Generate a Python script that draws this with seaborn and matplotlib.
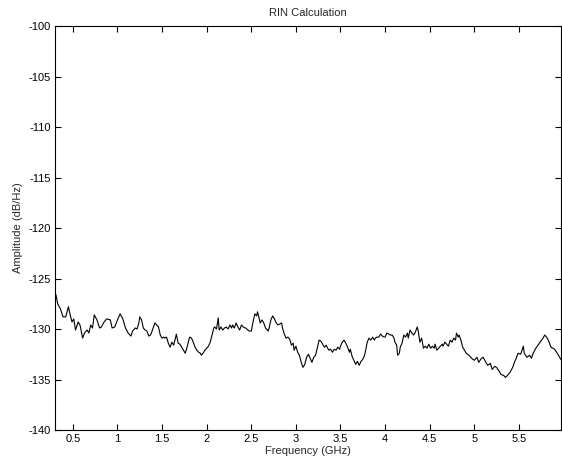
import matplotlib
matplotlib.use("Agg")
import matplotlib.pyplot as plt
import seaborn as sns
import pandas as pd

# frequency (GHz) and RIN amplitude (dB/Hz)
freq = [0.30, 0.31, 0.33, 0.36, 0.39, 0.42, 0.45, 0.47, 0.49, 0.51, 0.53, 0.56, 0.58,
        0.61, 0.63, 0.66, 0.68, 0.70, 0.72, 0.74, 0.77, 0.80, 0.82, 0.85, 0.88, 0.92,
        0.94, 0.97, 1.00, 1.03, 1.06, 1.09, 1.12, 1.15, 1.17, 1.20, 1.22, 1.24, 1.25,
        1.27, 1.29, 1.31, 1.33, 1.35, 1.37, 1.38, 1.40, 1.42, 1.44, 1.46, 1.48, 1.50,
        1.52, 1.53, 1.55, 1.57, 1.59, 1.61, 1.63, 1.65, 1.66, 1.68, 1.70, 1.72, 1.74,
        1.76, 1.78, 1.80, 1.81, 1.83, 1.85, 1.87, 1.89, 1.91, 1.93, 1.94, 1.96, 1.98,
        2.00, 2.02, 2.04, 2.06, 2.08, 2.09, 2.11, 2.13, 2.14, 2.16, 2.18, 2.20, 2.22,
        2.24, 2.26, 2.28, 2.29, 2.31, 2.33, 2.35, 2.37, 2.39, 2.41, 2.43, 2.44, 2.46,
        2.48, 2.50, 2.52, 2.54, 2.56, 2.57, 2.59, 2.60, 2.62, 2.64, 2.66, 2.69, 2.70,
        2.72, 2.74, 2.76, 2.78, 2.80, 2.82, 2.84, 2.85, 2.87, 2.89, 2.91, 2.93, 2.95,
        2.97, 2.98, 3.00, 3.02, 3.04, 3.06, 3.08, 3.10, 3.12, 3.14, 3.16, 3.18, 3.20,
        3.22, 3.24, 3.26, 3.28, 3.30, 3.32, 3.34, 3.35, 3.37, 3.39, 3.41, 3.43, 3.45,
        3.47, 3.49, 3.50, 3.52, 3.54, 3.56, 3.58, 3.60, 3.61, 3.63, 3.65, 3.67, 3.69,
        3.71, 3.73, 3.75, 3.77, 3.78, 3.80, 3.82, 3.84, 3.86, 3.88, 3.89, 3.91, 3.93,
        3.95, 3.97, 3.99, 4.00, 4.02, 4.04, 4.06, 4.08, 4.10, 4.11, 4.13, 4.14, 4.16,
        4.17, 4.19, 4.21, 4.23, 4.25, 4.26, 4.28, 4.30, 4.32, 4.34, 4.36, 4.37, 4.39,
        4.41, 4.43, 4.45, 4.47, 4.49, 4.51, 4.53, 4.55, 4.56, 4.58, 4.60, 4.62, 4.64,
        4.65, 4.67, 4.69, 4.71, 4.73, 4.75, 4.77, 4.79, 4.80, 4.82, 4.83, 4.85, 4.87,
        4.89, 4.91, 4.94, 4.97, 5.00, 5.03, 5.05, 5.08, 5.10, 5.13, 5.15, 5.18, 5.20,
        5.23, 5.25, 5.28, 5.30, 5.33, 5.35, 5.38, 5.40, 5.43, 5.45, 5.47, 5.49, 5.52,
        5.55, 5.56, 5.59, 5.62, 5.64, 5.66, 5.69, 5.73, 5.77, 5.79, 5.81, 5.83, 5.86,
        5.90, 5.93, 5.97]
amp = [-126.8, -126.6, -127.5, -128.0, -128.8, -128.8, -127.8, -128.6, -129.3, -129.0,
       -130.1, -129.3, -129.6, -130.9, -130.4, -130.1, -130.4, -129.6, -129.9, -128.6,
       -129.1, -129.9, -129.8, -129.3, -129.0, -129.1, -129.9, -129.8, -129.1, -128.5,
       -129.0, -129.9, -130.4, -130.7, -130.2, -129.9, -130.0, -129.4, -128.8, -129.1,
       -129.9, -130.1, -130.2, -130.7, -130.6, -130.4, -129.9, -129.4, -129.6, -129.8,
       -130.6, -130.9, -130.8, -130.9, -130.8, -131.4, -131.8, -131.3, -131.6, -130.9,
       -130.5, -131.4, -131.5, -131.8, -132.1, -132.4, -131.8, -131.1, -130.8, -130.9,
       -131.3, -131.8, -132.1, -132.3, -132.4, -132.6, -132.4, -132.1, -131.9, -131.7,
       -131.3, -130.6, -129.9, -129.8, -130.0, -128.9, -130.1, -129.8, -130.1, -129.9,
       -129.8, -130.0, -129.6, -129.9, -129.6, -129.9, -129.4, -129.8, -130.1, -129.6,
       -129.8, -129.9, -129.9, -130.1, -130.2, -130.2, -129.3, -128.5, -128.7, -128.3,
       -129.0, -129.4, -129.1, -129.4, -129.9, -130.2, -129.9, -129.1, -128.7, -129.0,
       -129.4, -129.6, -129.5, -129.4, -129.9, -130.5, -130.9, -130.8, -131.0, -131.6,
       -131.4, -132.1, -131.7, -132.3, -132.6, -133.3, -133.8, -133.5, -132.8, -132.5,
       -132.9, -133.3, -132.8, -132.6, -131.9, -131.1, -131.2, -131.5, -131.8, -131.6,
       -131.8, -132.1, -132.0, -132.3, -132.0, -132.1, -131.8, -132.0, -131.7, -131.3,
       -131.1, -131.4, -131.8, -132.3, -132.0, -132.7, -133.1, -133.5, -133.2, -133.6,
       -133.2, -133.0, -132.6, -132.2, -131.3, -130.9, -131.1, -130.8, -131.1, -130.9,
       -130.8, -130.8, -130.5, -130.7, -130.8, -130.8, -130.4, -130.5, -130.6, -130.6,
       -130.9, -131.3, -131.6, -132.6, -132.4, -131.8, -131.4, -130.6, -130.8, -130.4,
       -130.9, -130.1, -130.4, -130.6, -130.3, -129.8, -130.1, -131.3, -130.9, -131.9,
       -131.7, -131.9, -131.5, -131.9, -131.7, -131.9, -131.5, -132.1, -131.9, -131.7,
       -131.5, -131.7, -131.3, -131.5, -131.7, -131.1, -131.3, -130.9, -131.1, -130.4,
       -130.8, -130.6, -131.1, -131.8, -132.1, -132.4, -132.6, -132.9, -133.1, -132.8,
       -133.3, -132.9, -132.8, -133.3, -133.6, -133.4, -134.0, -133.7, -133.8, -134.2,
       -134.5, -134.6, -134.8, -134.5, -134.3, -133.8, -133.3, -132.9, -132.4, -132.5,
       -131.7, -132.4, -132.8, -132.6, -132.9, -132.4, -131.9, -131.4, -130.9, -130.6,
       -130.8, -131.1, -131.8, -132.0, -132.4, -133.0]

x_ticks = [0.5, 1, 1.5, 2, 2.5, 3, 3.5, 4, 4.5, 5, 5.5]
x_tick_labels = ["0.5", "1", "1.5", "2", "2.5", "3", "3.5", "4", "4.5", "5", "5.5"]
y_ticks = [-140, -135, -130, -125, -120, -115, -110, -105, -100]

df = pd.DataFrame({"freq": freq, "amp": amp})

sns.set_style("ticks")
plt.rcParams["font.family"] = ["Liberation Sans", "DejaVu Sans"]
plt.rcParams["font.size"] = 8
plt.rcParams["axes.unicode_minus"] = False  # plain hyphen like the MATLAB original

fig = plt.figure(figsize=(5.62, 4.61), dpi=100)
ax = fig.add_axes([0.0979, 0.0672, 0.9, 0.8764])

sns.lineplot(data=df, x="freq", y="amp", color="black", linewidth=0.8, ax=ax)

ax.set_xlim(0.3, 5.97)
ax.set_ylim(-140, -100)
ax.set_xticks(x_ticks)
ax.set_xticklabels(x_tick_labels)
ax.set_yticks(y_ticks)
ax.tick_params(direction="in", length=4, width=0.8, top=True, right=True,
               labelsize=8, colors="black", pad=3)
for s in ax.spines.values():
    s.set_linewidth(0.8)
    s.set_color("black")

ax.set_title("RIN Calculation", fontsize=8, pad=7)
ax.set_xlabel("Frequency (GHz)", fontsize=8, labelpad=1)
ax.set_ylabel("Amplitude (dB/Hz)", fontsize=8, labelpad=4)

fig.savefig("out.png", dpi=100, facecolor="white")
